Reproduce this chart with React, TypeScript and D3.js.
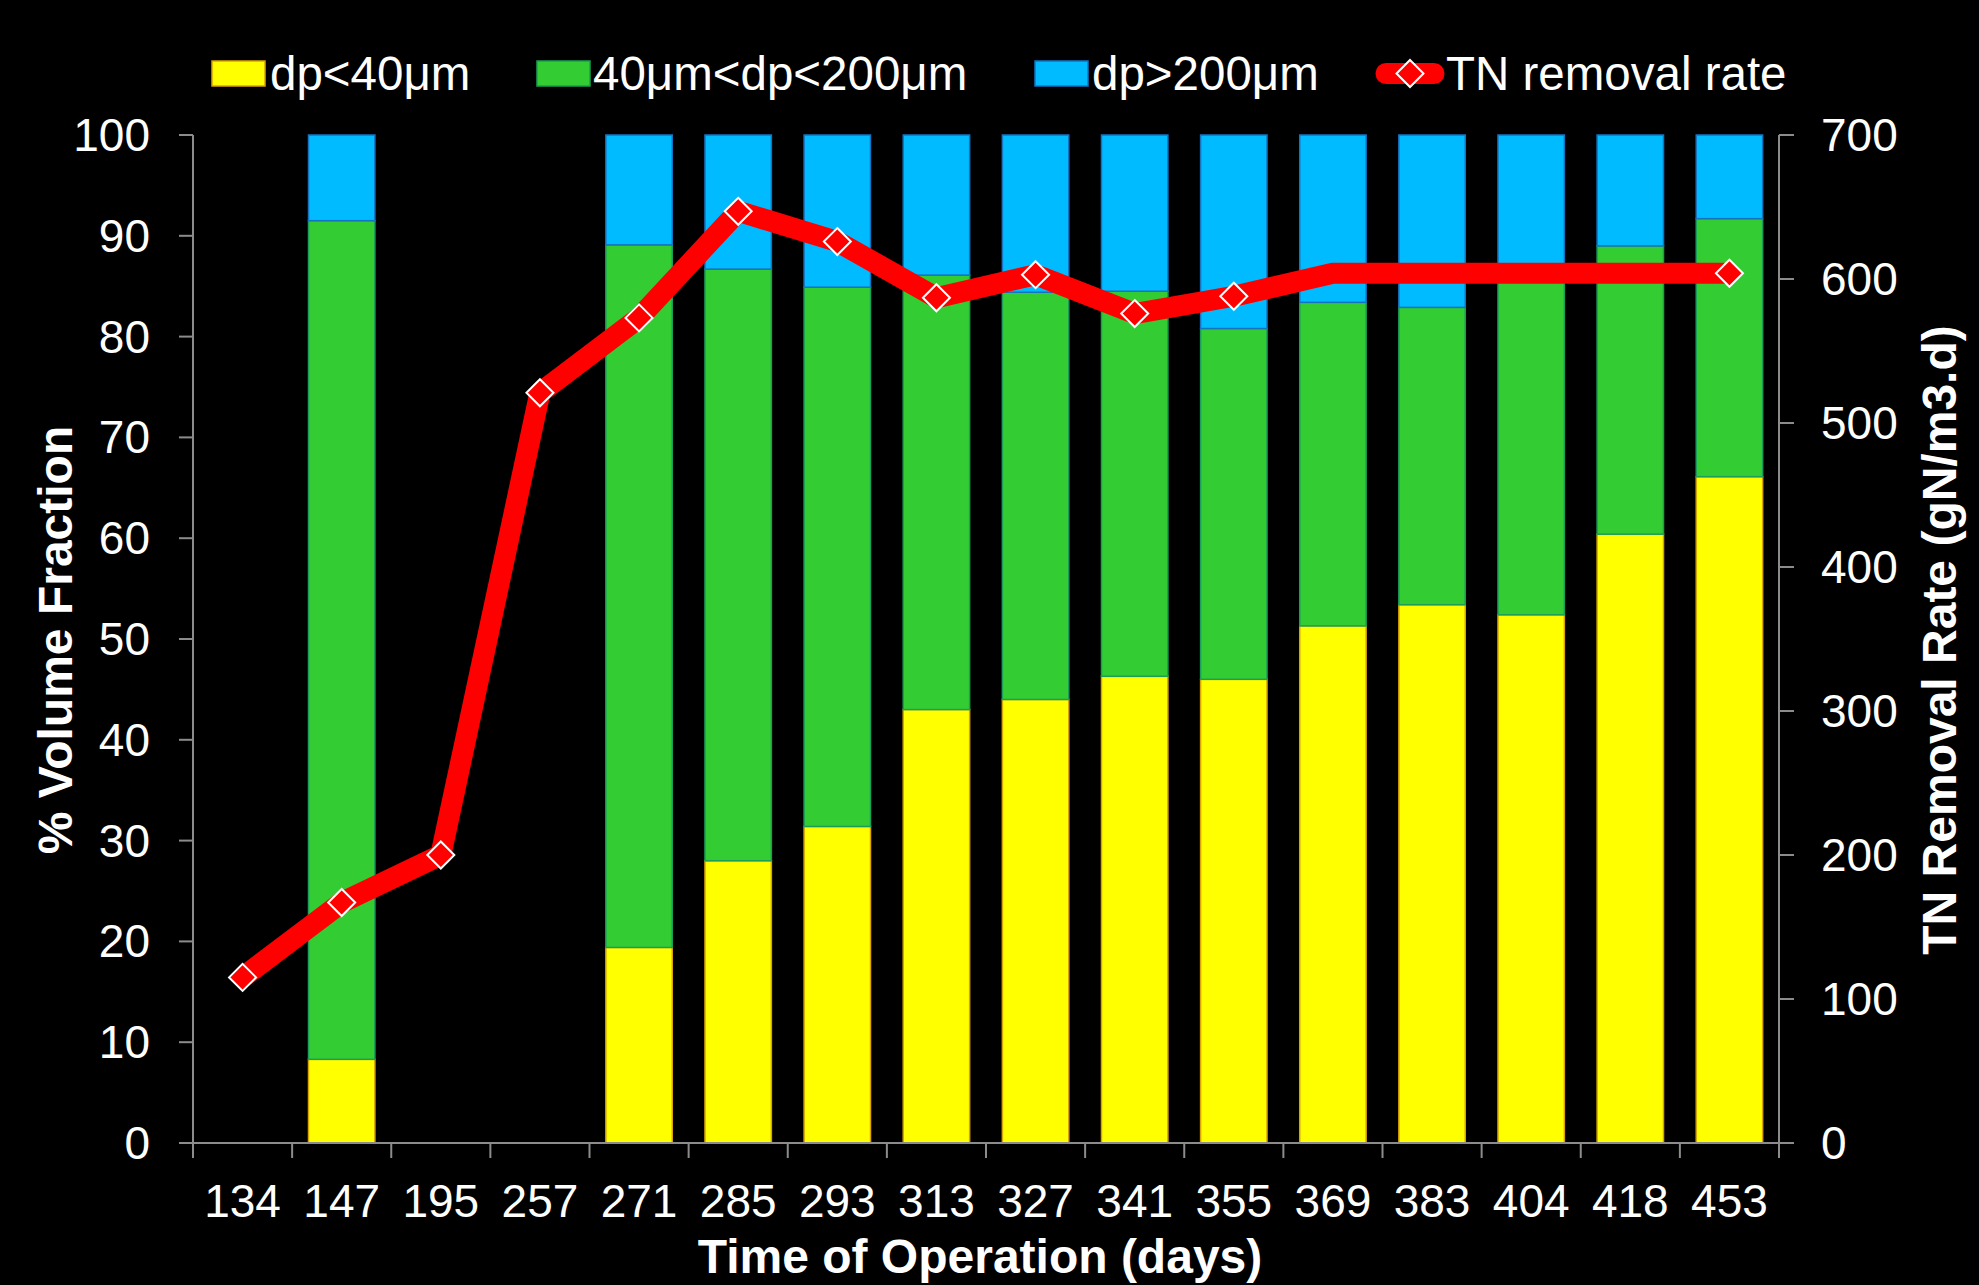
import React from "react";
import * as d3 from "d3";

const days = ["134", "147", "195", "257", "271", "285", "293", "313", "327", "341", "355", "369", "383", "404", "418", "453"];
const fine = [0, 8.3, 0, 0, 19.4, 28.0, 31.4, 43.0, 44.0, 46.3, 46.0, 51.3, 53.4, 52.4, 60.4, 66.1];
const medium = [0, 83.2, 0, 0, 69.7, 58.7, 53.5, 43.1, 40.4, 38.2, 34.8, 32.1, 29.5, 34.1, 28.6, 25.6];
const coarse = [0, 8.5, 0, 0, 10.9, 13.3, 15.1, 13.9, 15.6, 15.5, 19.2, 16.6, 17.1, 13.5, 11.0, 8.3];
const tnRate = [115, 167, 200, 521, 573, 647, 626, 587, 603, 576, 588, 604, 604, 604, 604, 604];
const tnMarker = [true, true, true, true, true, true, true, true, true, true, true, false, false, false, false, true];
const leftTicks = [0, 10, 20, 30, 40, 50, 60, 70, 80, 90, 100];
const rightTicks = [0, 100, 200, 300, 400, 500, 600, 700];

const seriesNames = ["dp<40μm", "40μm<dp<200μm", "dp>200μm"];
const seriesFill = ["#FFFF00", "#33CC33", "#00BBFF"];
const seriesStroke = ["#D9A400", "#1A9E5A", "#1673C0"];

const W = 1979;
const H = 1285;
const L = 193;
const R = 1779;
const T = 135;
const B = 1143;
const FONT = "'Liberation Sans', Arial, Helvetica, sans-serif";
const AXIS = "#8C8C8C";

export default function App() {
  const x = d3.scaleBand<string>().domain(days).range([L, R]).paddingInner(0.33).paddingOuter(0.165);
  const step = x.step();
  const yL = d3.scaleLinear().domain([0, 100]).range([B, T]);
  const yR = d3.scaleLinear().domain([0, 700]).range([B, T]);

  const rows = days.map((d, i) => ({ day: d, s0: fine[i], s1: medium[i], s2: coarse[i] }));
  const stack = d3.stack<any>().keys(["s0", "s1", "s2"])(rows);

  const line = d3
    .line<number>()
    .x((_, i) => (x(days[i]) as number) + x.bandwidth() / 2)
    .y((v) => yR(v));
  const pathD = line(tnRate) || "";

  const diamond = (cx: number, cy: number, r: number) =>
    `M${cx},${cy - r}L${cx + r},${cy}L${cx},${cy + r}L${cx - r},${cy}Z`;

  const legend = [
    { sx: 212, tx: 270, i: 0 },
    { sx: 537, tx: 593, i: 1 },
    { sx: 1035, tx: 1092, i: 2 },
  ];

  return (
    <svg
      width={W}
      height={H}
      style={{ position: "absolute", left: 0, top: 0, background: "#000" }}
      fontFamily={FONT}
    >
      <rect x={0} y={0} width={W} height={H} fill="#000" />

      {/* bars */}
      {stack.map((layer, si) => (
        <g key={si}>
          {layer.map((seg, i) => {
            const h = yL(seg[0]) - yL(seg[1]);
            if (h <= 0.01) return null;
            return (
              <rect
                key={i}
                x={x(days[i]) as number}
                y={yL(seg[1])}
                width={x.bandwidth()}
                height={h}
                fill={seriesFill[si]}
                stroke={seriesStroke[si]}
                strokeWidth={1.5}
              />
            );
          })}
        </g>
      ))}

      {/* left axis */}
      <line x1={L} x2={L} y1={T} y2={B + 15} stroke={AXIS} strokeWidth={2} />
      {leftTicks.map((t) => (
        <g key={t}>
          <line x1={L - 14} x2={L} y1={yL(t)} y2={yL(t)} stroke={AXIS} strokeWidth={2} />
          <text x={150} y={yL(t) + 16} textAnchor="end" fontSize={46} fill="#fff">
            {t}
          </text>
        </g>
      ))}

      {/* right axis */}
      <line x1={R} x2={R} y1={T} y2={B + 15} stroke={AXIS} strokeWidth={2} />
      {rightTicks.map((t) => (
        <g key={t}>
          <line x1={R} x2={R + 15} y1={yR(t)} y2={yR(t)} stroke={AXIS} strokeWidth={2} />
          <text x={1821} y={yR(t) + 16} textAnchor="start" fontSize={46} fill="#fff">
            {t}
          </text>
        </g>
      ))}

      {/* x axis */}
      <line x1={L - 14} x2={R} y1={B} y2={B} stroke={AXIS} strokeWidth={2} />
      {days.map((d, i) => (
        <line
          key={"t" + i}
          x1={L + i * step}
          x2={L + i * step}
          y1={B}
          y2={B + 15}
          stroke={AXIS}
          strokeWidth={2}
        />
      ))}
      <line x1={R} x2={R} y1={B} y2={B + 15} stroke={AXIS} strokeWidth={2} />
      {days.map((d) => (
        <text
          key={d}
          x={(x(d) as number) + x.bandwidth() / 2}
          y={1217}
          textAnchor="middle"
          fontSize={46}
          fill="#fff"
        >
          {d}
        </text>
      ))}

      {/* line series */}
      <path d={pathD} fill="none" stroke="#FF0000" strokeWidth={21} strokeLinejoin="round" strokeLinecap="butt" />
      {tnRate.map((v, i) =>
        tnMarker[i] ? (
          <path
            key={"m" + i}
            d={diamond((x(days[i]) as number) + x.bandwidth() / 2, yR(v), 13.5)}
            fill="#FF0000"
            stroke="#fff"
            strokeWidth={2}
          />
        ) : null
      )}

      {/* axis titles */}
      <text
        transform={`translate(72,640) rotate(-90)`}
        textAnchor="middle"
        fontSize={48}
        fontWeight="bold"
        fill="#fff"
      >
        % Volume Fraction
      </text>
      <text
        transform={`translate(1956,640) rotate(-90)`}
        textAnchor="middle"
        fontSize={48}
        fontWeight="bold"
        fill="#fff"
      >
        TN Removal Rate (gN/m3.d)
      </text>
      <text x={980} y={1273} textAnchor="middle" fontSize={48} fontWeight="bold" fill="#fff">
        Time of Operation (days)
      </text>

      {/* legend */}
      {legend.map((l) => (
        <g key={l.i}>
          <rect
            x={l.sx}
            y={61}
            width={53}
            height={25}
            fill={seriesFill[l.i]}
            stroke={seriesStroke[l.i]}
            strokeWidth={1.5}
          />
          <text x={l.tx} y={90} fontSize={47.5} fill="#fff">
            {seriesNames[l.i]}
          </text>
        </g>
      ))}
      <line x1={1386} x2={1434} y1={73.5} y2={73.5} stroke="#FF0000" strokeWidth={21} strokeLinecap="round" />
      <path d={diamond(1410, 73.5, 13.5)} fill="#FF0000" stroke="#fff" strokeWidth={2} />
      <text x={1446} y={90} fontSize={47.5} fill="#fff">
        TN removal rate
      </text>
    </svg>
  );
}
